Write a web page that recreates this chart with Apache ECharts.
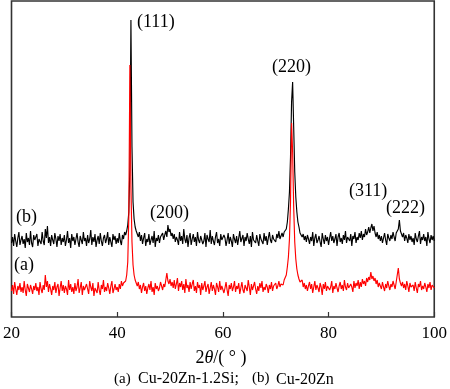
<!DOCTYPE html>
<html>
<head>
<meta charset="utf-8">
<script src="https://cdn.jsdelivr.net/npm/echarts@6/dist/echarts.min.js"></script>
<style>
html,body{margin:0;padding:0;background:#fff;}
#chart{width:450px;height:389px;}
</style>
</head>
<body>
<div id="chart"></div>
<script>
// 2θ sampling grid (degrees)
const twoThetaStart = 20;
const twoThetaStep = 0.2;

// (b) Cu-20Zn  — black trace (intensity, arbitrary units, offset)
const seriesB = [
74,80,71,83,76,70,79,85,72,77,
81,73,78,69,84,75,79,72,86,74,
70,82,77,75,83,71,78,80,73,85,
76,72,88,79,91,74,80,71,82,77,
73,84,78,70,81,76,83,72,79,75,
82,71,77,86,74,79,69,83,76,80,
72,78,84,75,70,81,77,73,85,76,
79,71,82,74,78,87,72,80,75,83,
70,77,81,73,84,76,71,79,82,74,
78,85,72,80,75,70,83,77,81,73,
79,74,84,76,72,82,78,85,82,86,
92,105,150,297,170,115,98,90,86,83,
80,85,76,82,73,79,84,71,78,75,
83,72,77,81,74,86,70,79,76,82,
74,80,78,84,77,82,86,80,92,85,
88,81,84,78,83,75,80,77,72,85,
76,81,73,88,78,74,82,70,79,84,
72,78,83,75,80,71,85,77,74,81,
79,73,76,84,70,82,78,75,87,73,
81,76,72,80,85,74,78,71,83,77,
75,82,79,71,77,84,73,80,76,70,
83,78,74,81,72,79,86,75,77,82,
71,80,76,84,78,73,81,70,85,77,
79,74,82,76,71,83,78,80,73,84,
76,81,72,79,85,77,74,82,78,80,
75,83,79,86,78,81,84,80,85,83,
88,95,108,125,160,215,235,190,145,120,
105,95,90,84,86,80,83,77,81,75,
82,78,73,80,76,85,71,79,83,74,
77,81,75,70,84,78,73,82,76,80,
72,79,85,76,81,74,78,83,71,80,
84,75,79,73,82,77,86,74,80,78,
76,83,71,81,78,85,74,80,77,84,
79,86,77,83,80,88,82,85,90,84,
89,93,86,91,84,80,85,78,82,76,
81,74,79,84,77,72,83,79,76,82,
78,85,80,76,84,82,88,97,86,83,
80,84,76,82,79,74,83,77,81,75,
79,72,84,78,75,81,86,73,80,77,
83,76,80,71,85,78,74,82,77,81,
76
];

// (a) Cu-20Zn-1.2Si — red trace
const seriesA = [
26,32,23,35,28,22,31,27,34,25,
30,24,36,27,21,33,29,25,32,28,
23,31,27,34,26,30,22,35,28,24,
32,27,42,30,36,25,33,28,22,31,
27,35,24,30,33,21,29,36,26,32,
24,31,28,22,37,27,33,25,30,23,
34,26,30,38,24,29,35,22,31,27,
25,33,28,23,36,30,26,34,21,29,
31,24,35,27,22,32,28,37,25,30,
26,34,29,23,31,36,24,28,33,27,
30,25,33,28,36,31,34,33,36,42,
55,100,252,130,75,52,42,37,34,31,
35,28,32,24,30,34,26,31,23,29,
33,27,36,25,30,22,34,28,31,26,
29,35,31,27,33,30,37,44,36,33,
38,31,35,29,37,28,33,39,26,34,
30,36,27,33,24,38,29,32,25,35,
28,33,37,26,31,24,35,29,32,22,
34,27,31,36,25,30,33,23,29,35,
26,32,28,22,34,30,25,36,27,31,
33,24,29,35,27,21,32,28,34,26,
30,36,25,31,28,34,23,29,35,27,
24,32,29,26,37,30,22,33,27,31,
35,28,23,31,26,34,29,36,25,30,
27,33,30,24,32,28,35,26,31,29,
34,28,31,36,30,33,35,32,37,39,
42,50,60,78,115,194,165,110,75,58,
48,42,38,35,33,37,30,34,28,32,
26,31,35,28,33,24,30,36,27,32,
29,25,34,30,22,33,28,35,26,31,
33,27,30,36,24,31,28,34,29,25,
31,35,28,32,26,37,30,27,34,29,
27,33,30,25,36,29,34,31,37,28,
35,30,38,33,36,31,39,35,40,37,
45,38,41,36,39,33,37,30,34,31,
28,35,30,26,33,29,36,31,27,33,
30,36,32,28,35,33,49,38,34,31,
35,29,33,27,36,31,25,34,30,28,
32,26,35,29,24,33,30,36,27,31,
28,34,30,25,33,29,35,27,32,30,
29
];

const xTickMin = 20, xTickMax = 100, xTickStep = 20;
const peakLabels = ['(111)', '(200)', '(220)', '(311)', '(222)'];
const traceLabels = ['(a)', '(b)'];
const captionParts = ['(a)', 'Cu-20Zn-1.2Si;', '(b)', 'Cu-20Zn'];

const toPairs = arr => arr.map((v, i) => [+(twoThetaStart + i * twoThetaStep).toFixed(1), v]);

const SERIF = '"Liberation Serif","Times New Roman",serif';
const txt = (text, x, y, size, extra) => Object.assign({
  type: 'text', x: x, y: y, silent: true,
  style: { text: text, fontFamily: SERIF, fontSize: size, fill: '#000', verticalAlign: 'middle', align: 'left' }
}, extra || {});

const chart = echarts.init(document.getElementById('chart'), null, { renderer: 'canvas' });
chart.setOption({
  animation: false,
  backgroundColor: '#fff',
  grid: { left: 8.3, right: 14, top: 1, bottom: 72, show: true, borderColor: '#333', borderWidth: 1.6, backgroundColor: 'transparent' },
  xAxis: {
    type: 'value', min: xTickMin, max: xTickMax, interval: xTickStep,
    axisLine: { show: false },
    axisTick: { show: true, inside: true, length: 5, lineStyle: { color: '#333', width: 1.2 } },
    axisLabel: { fontFamily: SERIF, fontSize: 17, color: '#000', margin: 8 },
    splitLine: { show: false }
  },
  yAxis: {
    type: 'value', min: 0, max: 316,
    axisLine: { show: false }, axisTick: { show: false }, axisLabel: { show: false }, splitLine: { show: false }
  },
  series: [
    { name: '(b) Cu-20Zn', type: 'line', data: toPairs(seriesB), symbol: 'none', lineStyle: { color: '#000', width: 1.15 }, z: 2 },
    { name: '(a) Cu-20Zn-1.2Si', type: 'line', data: toPairs(seriesA), symbol: 'none', lineStyle: { color: '#ff0000', width: 1.15 }, z: 3 }
  ],
  graphic: [
    txt(peakLabels[0], 137, 22, 18),
    txt(peakLabels[1], 150, 213, 18),
    txt(peakLabels[2], 272, 67, 18),
    txt(peakLabels[3], 349, 191, 18),
    txt(peakLabels[4], 386, 208, 18),
    txt(traceLabels[1], 16, 217, 18),
    txt(traceLabels[0], 14, 265, 18),
    {
      type: 'text', x: 221, y: 358, silent: true,
      style: {
        text: '{n|2}{i|θ}{n|/( ° )}', align: 'center', verticalAlign: 'middle',
        rich: {
          n: { fontFamily: SERIF, fontSize: 18, fill: '#000' },
          i: { fontFamily: SERIF, fontSize: 18, fontStyle: 'italic', fill: '#000' }
        }
      }
    },
    txt(captionParts[0], 114, 379, 15),
    txt(captionParts[1], 138, 379, 16),
    txt(captionParts[2], 252, 378, 15),
    txt(captionParts[3], 276, 380, 16)
  ]
});
</script>
</body>
</html>
